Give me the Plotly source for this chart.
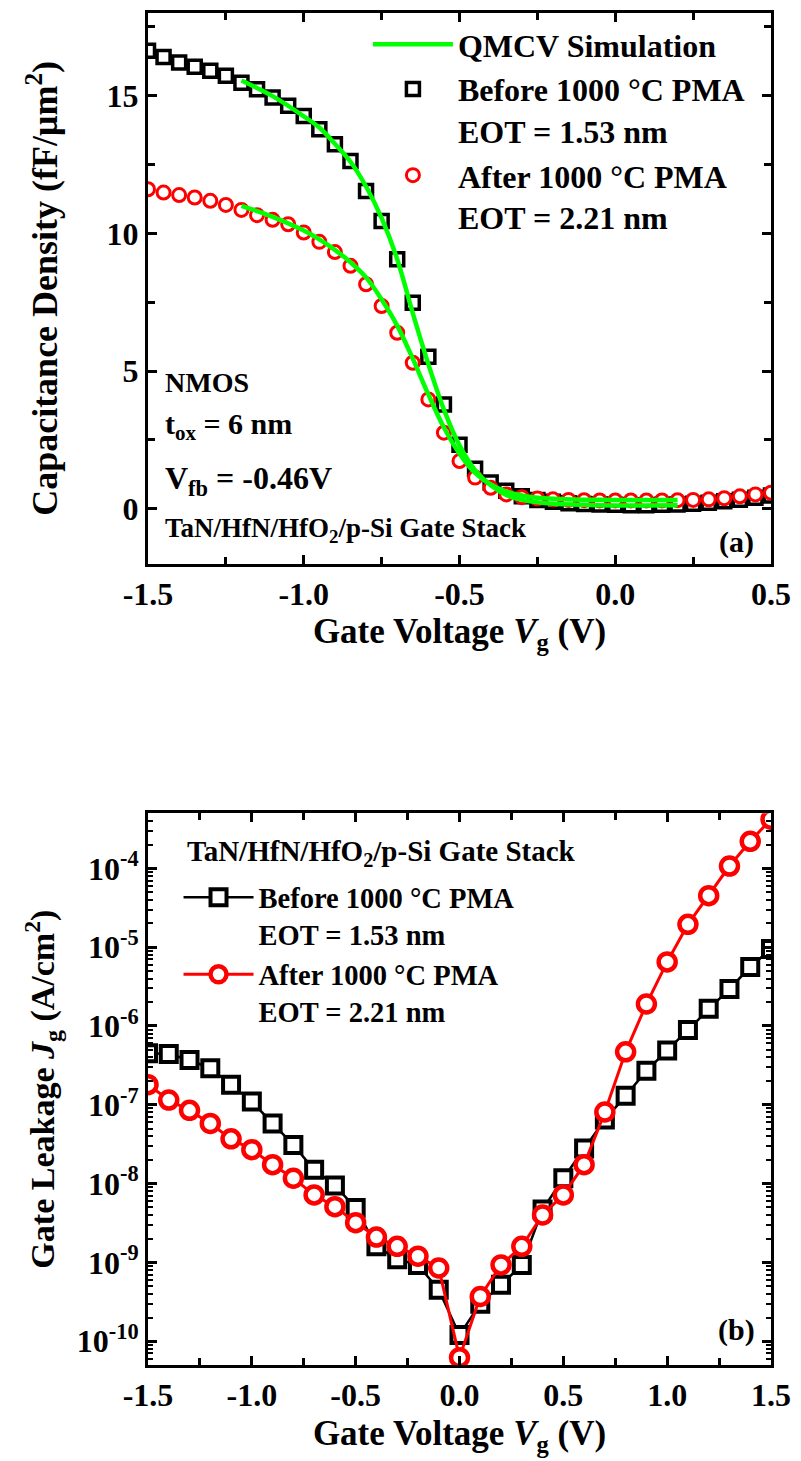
import plotly.graph_objects as go

# ---------------- Panel (a): C-V data ----------------
cv_v = [-1.50, -1.45, -1.40, -1.35, -1.30, -1.25, -1.20, -1.15, -1.10, -1.05,
        -1.00, -0.95, -0.90, -0.85, -0.80, -0.75, -0.70, -0.65, -0.60, -0.55,
        -0.50, -0.45, -0.40, -0.35, -0.30, -0.25, -0.20, -0.15, -0.10, -0.05,
        0.00, 0.05, 0.10, 0.15, 0.20, 0.25, 0.30, 0.35, 0.40, 0.45, 0.50]
cv_before = [16.63, 16.40, 16.20, 16.05, 15.90, 15.72, 15.47, 15.23, 14.93, 14.63,
             14.26, 13.78, 13.23, 12.63, 11.54, 10.45, 9.06, 7.48, 5.52, 3.78,
             2.32, 1.45, 0.95, 0.65, 0.45, 0.32, 0.25, 0.20, 0.17, 0.15,
             0.14, 0.13, 0.13, 0.14, 0.15, 0.18, 0.22, 0.27, 0.33, 0.40, 0.48]
cv_after = [11.60, 11.48, 11.39, 11.30, 11.18, 11.03, 10.85, 10.66, 10.49, 10.33,
            10.03, 9.69, 9.32, 8.82, 8.15, 7.36, 6.39, 5.30, 3.97, 2.76,
            1.73, 1.13, 0.76, 0.52, 0.42, 0.37, 0.34, 0.32, 0.31, 0.30,
            0.30, 0.30, 0.30, 0.30, 0.31, 0.32, 0.34, 0.38, 0.45, 0.52, 0.58]

sim_v = [-1.20, -1.10, -1.00, -0.95, -0.90, -0.85, -0.80, -0.75, -0.70, -0.65,
         -0.60, -0.55, -0.50, -0.45, -0.40, -0.35, -0.30, -0.25, -0.20, -0.10,
         0.00, 0.10, 0.20]
sim_before = [15.55, 14.98, 14.25, 13.84, 13.25, 12.60, 11.70, 10.55, 9.06, 7.10,
              5.25, 3.60, 2.30, 1.40, 0.85, 0.50, 0.32, 0.23, 0.18, 0.14,
              0.12, 0.12, 0.13]
sim_after = [11.00, 10.60, 10.10, 9.78, 9.40, 8.95, 8.40, 7.60, 6.65, 5.45,
             4.15, 2.95, 2.00, 1.30, 0.88, 0.62, 0.48, 0.40, 0.36, 0.33,
             0.32, 0.32, 0.32]

# ---------------- Panel (b): J-V data ----------------
jv_v = [-1.5, -1.4, -1.3, -1.2, -1.1, -1.0, -0.9, -0.8, -0.7, -0.6, -0.5,
        -0.4, -0.3, -0.2, -0.1, 0.0, 0.1, 0.2, 0.3, 0.4, 0.5, 0.6, 0.7,
        0.8, 0.9, 1.0, 1.1, 1.2, 1.3, 1.4, 1.5]
jv_before = [4.5e-7, 4.4e-7, 3.7e-7, 2.9e-7, 1.8e-7, 1.1e-7, 5.8e-8, 3.1e-8,
             1.5e-8, 9.5e-9, 4.9e-9, 1.6e-9, 1.1e-9, 9.3e-10, 4.5e-10, 1.2e-10,
             3.0e-10, 5.2e-10, 9.3e-10, 4.7e-9, 1.17e-8, 2.8e-8, 6.5e-8, 1.3e-7,
             2.7e-7, 4.9e-7, 8.9e-7, 1.66e-6, 2.95e-6, 5.6e-6, 9.5e-6]
jv_after = [1.8e-7, 1.15e-7, 8.5e-8, 5.8e-8, 3.7e-8, 2.7e-8, 1.74e-8, 1.17e-8,
            7.2e-9, 5.1e-9, 3.2e-9, 2.1e-9, 1.6e-9, 1.2e-9, 8.5e-10, 6.2e-11,
            3.7e-10, 9.3e-10, 1.6e-9, 4.0e-9, 7.2e-9, 1.74e-8, 8.1e-8, 4.7e-7,
            1.9e-6, 6.5e-6, 1.95e-5, 4.5e-5, 1.07e-4, 2.2e-4, 4.2e-4]

# ---------------- Tick labels ----------------
xa_ticks = [-1.5, -1.0, -0.5, 0.0, 0.5]
xa_text = ["-1.5", "-1.0", "-0.5", "0.0", "0.5"]
ya_ticks = [0, 5, 10, 15]
ya_text = ["0", "5", "10", "15"]
xb_ticks = [-1.5, -1.0, -0.5, 0.0, 0.5, 1.0, 1.5]
xb_text = ["-1.5", "-1.0", "-0.5", "0.0", "0.5", "1.0", "1.5"]
yb_ticks = [1e-10, 1e-9, 1e-8, 1e-7, 1e-6, 1e-5, 1e-4]
yb_text = ["10<sup>-10</sup>", "10<sup>-9</sup>", "10<sup>-8</sup>", "10<sup>-7</sup>",
           "10<sup>-6</sup>", "10<sup>-5</sup>", "10<sup>-4</sup>"]
yb_minor = [m * d for d in [1e-11, 1e-10, 1e-9, 1e-8, 1e-7, 1e-6, 1e-5, 1e-4]
            for m in [2, 3, 4, 5, 6, 7, 8, 9]]

FONT = "Liberation Serif"
BLACK = "#000000"
RED = "#FF0000"
GREEN = "#00FF00"


def f(size):
    return dict(family=FONT, size=size, color=BLACK, weight="bold")


fig = go.Figure()

# Panel (a)
fig.add_trace(go.Scatter(x=cv_v, y=cv_before, mode="markers", name="Before 1000 °C PMA<br>EOT = 1.53 nm",
                         marker=dict(symbol="square", size=13, color="white", line=dict(color=BLACK, width=3.5)),
                         xaxis="x", yaxis="y", legend="legend", legendrank=2))
fig.add_trace(go.Scatter(x=cv_v, y=cv_after, mode="markers", name="After 1000 °C PMA<br>EOT = 2.21 nm",
                         marker=dict(symbol="circle", size=13, color="white", line=dict(color=RED, width=3)),
                         xaxis="x", yaxis="y", legend="legend", legendrank=3))
fig.add_trace(go.Scatter(x=sim_v, y=sim_before, mode="lines", name="QMCV Simulation",
                         line=dict(color=GREEN, width=4.5, shape="spline"),
                         xaxis="x", yaxis="y", legend="legend", legendrank=1))
fig.add_trace(go.Scatter(x=sim_v, y=sim_after, mode="lines", name="QMCV Simulation", showlegend=False,
                         line=dict(color=GREEN, width=4.5, shape="spline"),
                         xaxis="x", yaxis="y", legend="legend"))

# Panel (b)
fig.add_trace(go.Scatter(x=jv_v, y=jv_before, mode="lines+markers", name="Before 1000 °C PMA<br>EOT = 1.53 nm",
                         line=dict(color=BLACK, width=2.5),
                         marker=dict(symbol="square", size=16, color="white", line=dict(color=BLACK, width=4)),
                         xaxis="x2", yaxis="y2", legend="legend2"))
fig.add_trace(go.Scatter(x=jv_v, y=jv_after, mode="lines+markers", name="After 1000 °C PMA<br>EOT = 2.21 nm",
                         line=dict(color=RED, width=3),
                         marker=dict(symbol="circle", size=17, color="white", line=dict(color=RED, width=4.5)),
                         xaxis="x2", yaxis="y2", legend="legend2"))

axis_common = dict(showline=True, linewidth=3, linecolor=BLACK, mirror="allticks",
                   ticks="inside", ticklen=9, tickwidth=3, tickcolor=BLACK,
                   showgrid=False, zeroline=False, tickfont=f(32))

fig.update_layout(
    width=801, height=1461,
    margin=dict(l=148, r=21, t=10, b=96),
    paper_bgcolor="white", plot_bgcolor="white",
    font=f(32),
    xaxis=dict(domain=[0, 1], anchor="y", range=[-1.5, 0.5], tickmode="array",
               tickvals=xa_ticks, ticktext=xa_text,
               minor=dict(ticks="inside", dtick=0.25, ticklen=7, tickwidth=2.5, tickcolor=BLACK),
               title=dict(text="Gate Voltage <i>V</i><sub>g</sub> (V)", font=f(35), standoff=6),
               **axis_common),
    yaxis=dict(domain=[0.5926, 1], anchor="x", range=[-2, 18], tickmode="array",
               tickvals=ya_ticks, ticktext=ya_text,
               minor=dict(ticks="inside", dtick=2.5, ticklen=7, tickwidth=2.5, tickcolor=BLACK),
               title=dict(text="Capacitance Density (fF/μm<sup>2</sup>)", font=f(36), standoff=38),
               **axis_common),
    xaxis2=dict(domain=[0, 1], anchor="y2", range=[-1.5, 1.5], tickmode="array",
                tickvals=xb_ticks, ticktext=xb_text,
                minor=dict(ticks="inside", dtick=0.25, ticklen=7, tickwidth=2.5, tickcolor=BLACK),
                title=dict(text="Gate Voltage <i>V</i><sub>g</sub> (V)", font=f(35), standoff=9),
                **axis_common),
    yaxis2=dict(domain=[0, 0.4081], anchor="x2", type="log", range=[-10.301, -3.301],
                tickmode="array", tickvals=yb_ticks, ticktext=yb_text,
                minor=dict(ticks="inside", tickmode="array", tickvals=yb_minor, ticklen=5,
                           tickwidth=2, tickcolor=BLACK),
                title=dict(text="Gate Leakage <i>J</i><sub>g</sub> (A/cm<sup>2</sup>)", font=f(34), standoff=12),
                **axis_common),
    legend=dict(x=0.353, y=0.997, xanchor="left", yanchor="top", bgcolor="rgba(0,0,0,0)",
                font=f(32), valign="top", tracegroupgap=0, traceorder="normal", itemwidth=80),
    legend2=dict(x=0.049, y=0.3645, xanchor="left", yanchor="top", bgcolor="rgba(0,0,0,0)",
                 font=f(28.5), valign="top", tracegroupgap=0, traceorder="normal", itemwidth=70),
)

annotations = [
    dict(text="NMOS", x=0.024, y=0.330, xref="x domain", yref="y domain", size=28),
    dict(text="t<sub>ox</sub> = 6 nm", x=0.024, y=0.250, xref="x domain", yref="y domain", size=30),
    dict(text="V<sub>fb</sub> = -0.46V", x=0.024, y=0.152, xref="x domain", yref="y domain", size=32),
    dict(text="TaN/HfN/HfO<sub>2</sub>/p-Si Gate Stack", x=0.024, y=0.062, xref="x domain",
         yref="y domain", size=27),
    dict(text="(a)", x=0.945, y=0.04, xref="x domain", yref="y domain", xanchor="center", size=30),
    dict(text="TaN/HfN/HfO<sub>2</sub>/p-Si Gate Stack", x=0.06, y=0.928, xref="x2 domain",
         yref="y2 domain", size=29),
    dict(text="(b)", x=0.945, y=0.063, xref="x2 domain", yref="y2 domain", xanchor="center", size=30),
]
for a in annotations:
    size = a.pop("size")
    a.setdefault("xanchor", "left")
    fig.add_annotation(showarrow=False, yanchor="middle", font=f(size), **a)

fig.write_html("out.html")
